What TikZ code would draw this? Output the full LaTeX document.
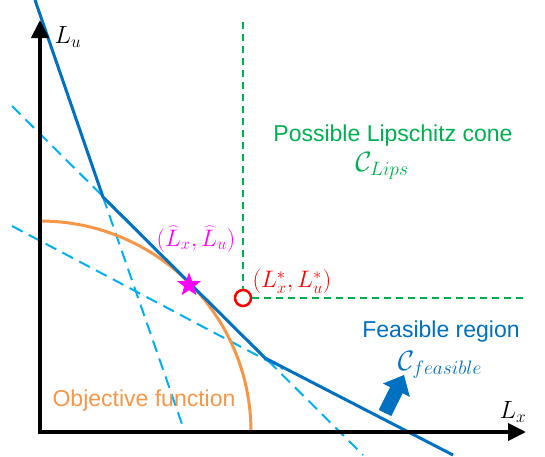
\documentclass[tikz,border=0pt]{standalone}
\usepackage[no-math]{fontspec}
\setmainfont{Liberation Sans}
\usepackage{graphicx}
\usetikzlibrary{arrows.meta,shapes.geometric}
\definecolor{fblue}{HTML}{0070C0}
\definecolor{lblue}{HTML}{00B0F0}
\definecolor{forange}{HTML}{F79646}
\definecolor{fgreen}{HTML}{00B050}
\definecolor{fred}{HTML}{FF0000}
\definecolor{fmag}{HTML}{FF00FF}
\tikzset{
  axis/.style={line width=4pt, line join=miter, {Triangle[length=18pt,width=17pt]}-{Triangle[length=18pt,width=17pt]}},
  solidb/.style={fblue, line width=3pt, line join=round},
  dashb/.style={lblue, line width=2pt, dash pattern=on 12pt off 7pt},
  dashg/.style={fgreen, line width=2.5pt, dash pattern=on 7pt off 5pt},
  sanslab/.style={font=\fontsize{23}{27}\selectfont, inner sep=0pt},
  mathlab/.style={font=\fontsize{21}{25}\selectfont, inner sep=0pt},
}
\begin{document}
\begin{tikzpicture}[x=1pt,y=-1pt]
\useasboundingbox (0,0) rectangle (545,456);
% key points
\coordinate (O) at (40,432);
\coordinate (ytop) at (40,20);
\coordinate (xend) at (526,432);
\coordinate (b0) at (35,0);
\coordinate (k1) at (103,197);
\coordinate (k2) at (265,358);
\coordinate (b3) at (453,455);
\coordinate (dA1) at (12,106);
\coordinate (dA2) at (363,455);
\coordinate (dB2) at (183,427);
\coordinate (dC1) at (12,226);
\coordinate (dC2) at (283,369);
\coordinate (gtop) at (243,22);
\coordinate (gright) at (526,298);
% dashed extensions
\draw[dashb] (dA1) -- (dA2);
\draw[dashb] (k1) -- (dB2);
\draw[dashb] (dC1) -- (dC2);
% objective arc
\draw[forange, line width=3pt] (O) ++(0,-211) arc[start angle=-90, end angle=0, radius=211];
% feasible boundary
\draw[solidb] (b0) -- (k1) -- (k2) -- (b3);
% axes
\draw[axis] (ytop) -- (O) -- (xend);
% green cone
\node[circle, draw=fred, line width=2.5pt, minimum size=16pt, inner sep=0pt] (Lstar) at (243,298) {};
\draw[dashg] (gtop) -- (Lstar.north);
\draw[dashg] (Lstar.east) -- (gright);
% star
\node[star, star points=5, star point ratio=2.4, fill=fmag, minimum size=25pt, inner sep=0pt] (Lhat) at (189,285) {};
% feasible arrow
\fill[fblue] (391.3,416.1) -- (402.7,393.3) -- (409.8,396.9) -- (404,375) -- (383.0,383.5) -- (390.1,387.1) -- (378.7,409.9) -- cycle;
% labels
\node[mathlab] (Lu) at (68,37) {\scalebox{1.2}{$L_u$}};
\node[mathlab] (Lx) at (513,412) {\scalebox{1.2}{$L_x$}};
\node[sanslab, text=fgreen] (cone) at (393,136) {Possible Lipschitz cone};
\node[mathlab, text=fgreen] (clips) at (382,166) {\scalebox{1.35}{$\mathcal{C}_{Lips}$}};
\node[sanslab, text=fblue] (feas) at (441,332) {Feasible region};
\node[mathlab, text=fblue] (cfeas) at (440,365) {\scalebox{1.35}{$\mathcal{C}_{feasible}$}};
\node[sanslab, text=forange] (obj) at (144,401) {Objective function};
\node[mathlab, text=fmag] (hatlab) at (196,239) {\scalebox{1.15}{$(\widehat{L}_x,\widehat{L}_u)$}};
\node[mathlab, text=fred] (starlab) at (292,282) {\scalebox{1.15}{$(L_x^*,L_u^*)$}};
\end{tikzpicture}
\end{document}
